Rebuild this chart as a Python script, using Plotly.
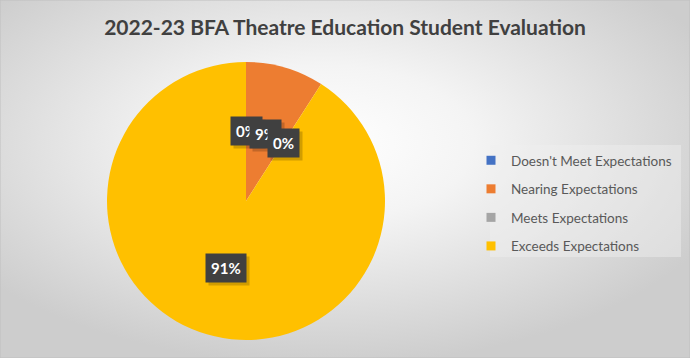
import math
import plotly.graph_objects as go

categories = ["Doesn't Meet Expectations", "Nearing Expectations", "Meets Expectations", "Exceeds Expectations"]
values = [0, 1, 0, 10]
colors = ["#4472C4", "#ED7D31", "#A5A5A5", "#FFC000"]
title_text = "2022-23 BFA Theatre Education Student Evaluation"

W, H = 690, 358
# pie placement (pixels)
CX, CY, R = 246, 201, 139

fig = go.Figure()
fig.add_trace(go.Pie(
    labels=categories, values=values, marker=dict(colors=colors, line=dict(width=0)),
    sort=False, direction="clockwise", rotation=0, textinfo="none",
    showlegend=False, hoverinfo="label+percent",
    domain=dict(x=[(CX - R) / W, (CX + R) / W], y=[1 - (CY + R) / H, 1 - (CY - R) / H]),
))

# legend via dummy traces so spacing can match
for cat, col in zip(categories, colors):
    fig.add_trace(go.Scatter(
        x=[None], y=[None], mode="markers", name=cat, legendgroup=cat,
        marker=dict(symbol="square", size=9, color=col),
    ))

# data labels computed from data
total = sum(values)
cum = 0
annotations = []
for v in values:
    mid = (cum + v / 2) / total
    cum += v
    th = 2 * math.pi * mid
    px = CX + 0.5 * R * math.sin(th)
    py = CY - 0.5 * R * math.cos(th)
    pct = f"{round(100 * v / total)}%"
    # shadow
    annotations.append(dict(
        x=px / W, y=1 - py / H, xref="paper", yref="paper", text=f"<b>{pct}</b>",
        xanchor="center", yanchor="middle",
        showarrow=False, font=dict(family="Lato", size=15, color="rgba(0,0,0,0)"),
        bgcolor="rgba(0,0,0,0.18)", borderpad=5, xshift=3, yshift=-3,
    ))
    annotations.append(dict(
        x=px / W, y=1 - py / H, xref="paper", yref="paper", text=f"<b>{pct}</b>",
        xanchor="center", yanchor="middle",
        showarrow=False, font=dict(family="Lato", size=15, color="#ffffff"),
        bgcolor="#404040", borderpad=5,
    ))

bg_svg = (
    "data:image/svg+xml;utf8,"
    "<svg xmlns='http://www.w3.org/2000/svg' width='690' height='358' preserveAspectRatio='none'>"
    "<defs><radialGradient id='g' cx='0.47' cy='0.4' r='0.62'>"
    "<stop offset='0' stop-color='%23ffffff'/><stop offset='0.35' stop-color='%23f4f4f4'/>"
    "<stop offset='1' stop-color='%23cdcdcd'/></radialGradient></defs>"
    "<rect width='690' height='358' fill='url(%23g)'/></svg>"
)

fig.update_layout(
    width=W, height=H,
    margin=dict(l=0, r=0, t=0, b=0),
    paper_bgcolor="#e4e4e4", plot_bgcolor="rgba(0,0,0,0)",
    title=dict(text=f"<b>{title_text}</b>", x=0.5, xanchor="center", y=1 - 28 / H, yanchor="middle",
               font=dict(family="Lato", size=21, color="#404040")),
    xaxis=dict(visible=False), yaxis=dict(visible=False),
    legend=dict(x=471 / W, y=1 - 145 / H, xanchor="left", yanchor="top",
                font=dict(family="Lato", size=13.5, color="#595959"),
                bgcolor="rgba(0,0,0,0)", tracegroupgap=8, traceorder="grouped",
                itemwidth=30),
    annotations=annotations,
    images=[dict(source=bg_svg, xref="paper", yref="paper", x=0, y=1, sizex=1, sizey=1,
                 sizing="stretch", layer="below", xanchor="left", yanchor="top")],
    shapes=[
        dict(type="rect", xref="paper", yref="paper", x0=490 / W, y0=1 - 257 / H, x1=681 / W, y1=1 - 145 / H,
             line=dict(width=0), fillcolor="rgba(240,240,240,0.45)", layer="below"),
        dict(type="rect", xref="paper", yref="paper", x0=0, y0=0, x1=1, y1=1,
             line=dict(color="#bfbfbf", width=1)),
    ],
)

fig.write_html("out.html", config={"displayModeBar": False},
               post_script="document.body.style.margin='0';document.body.style.overflow='hidden';")
